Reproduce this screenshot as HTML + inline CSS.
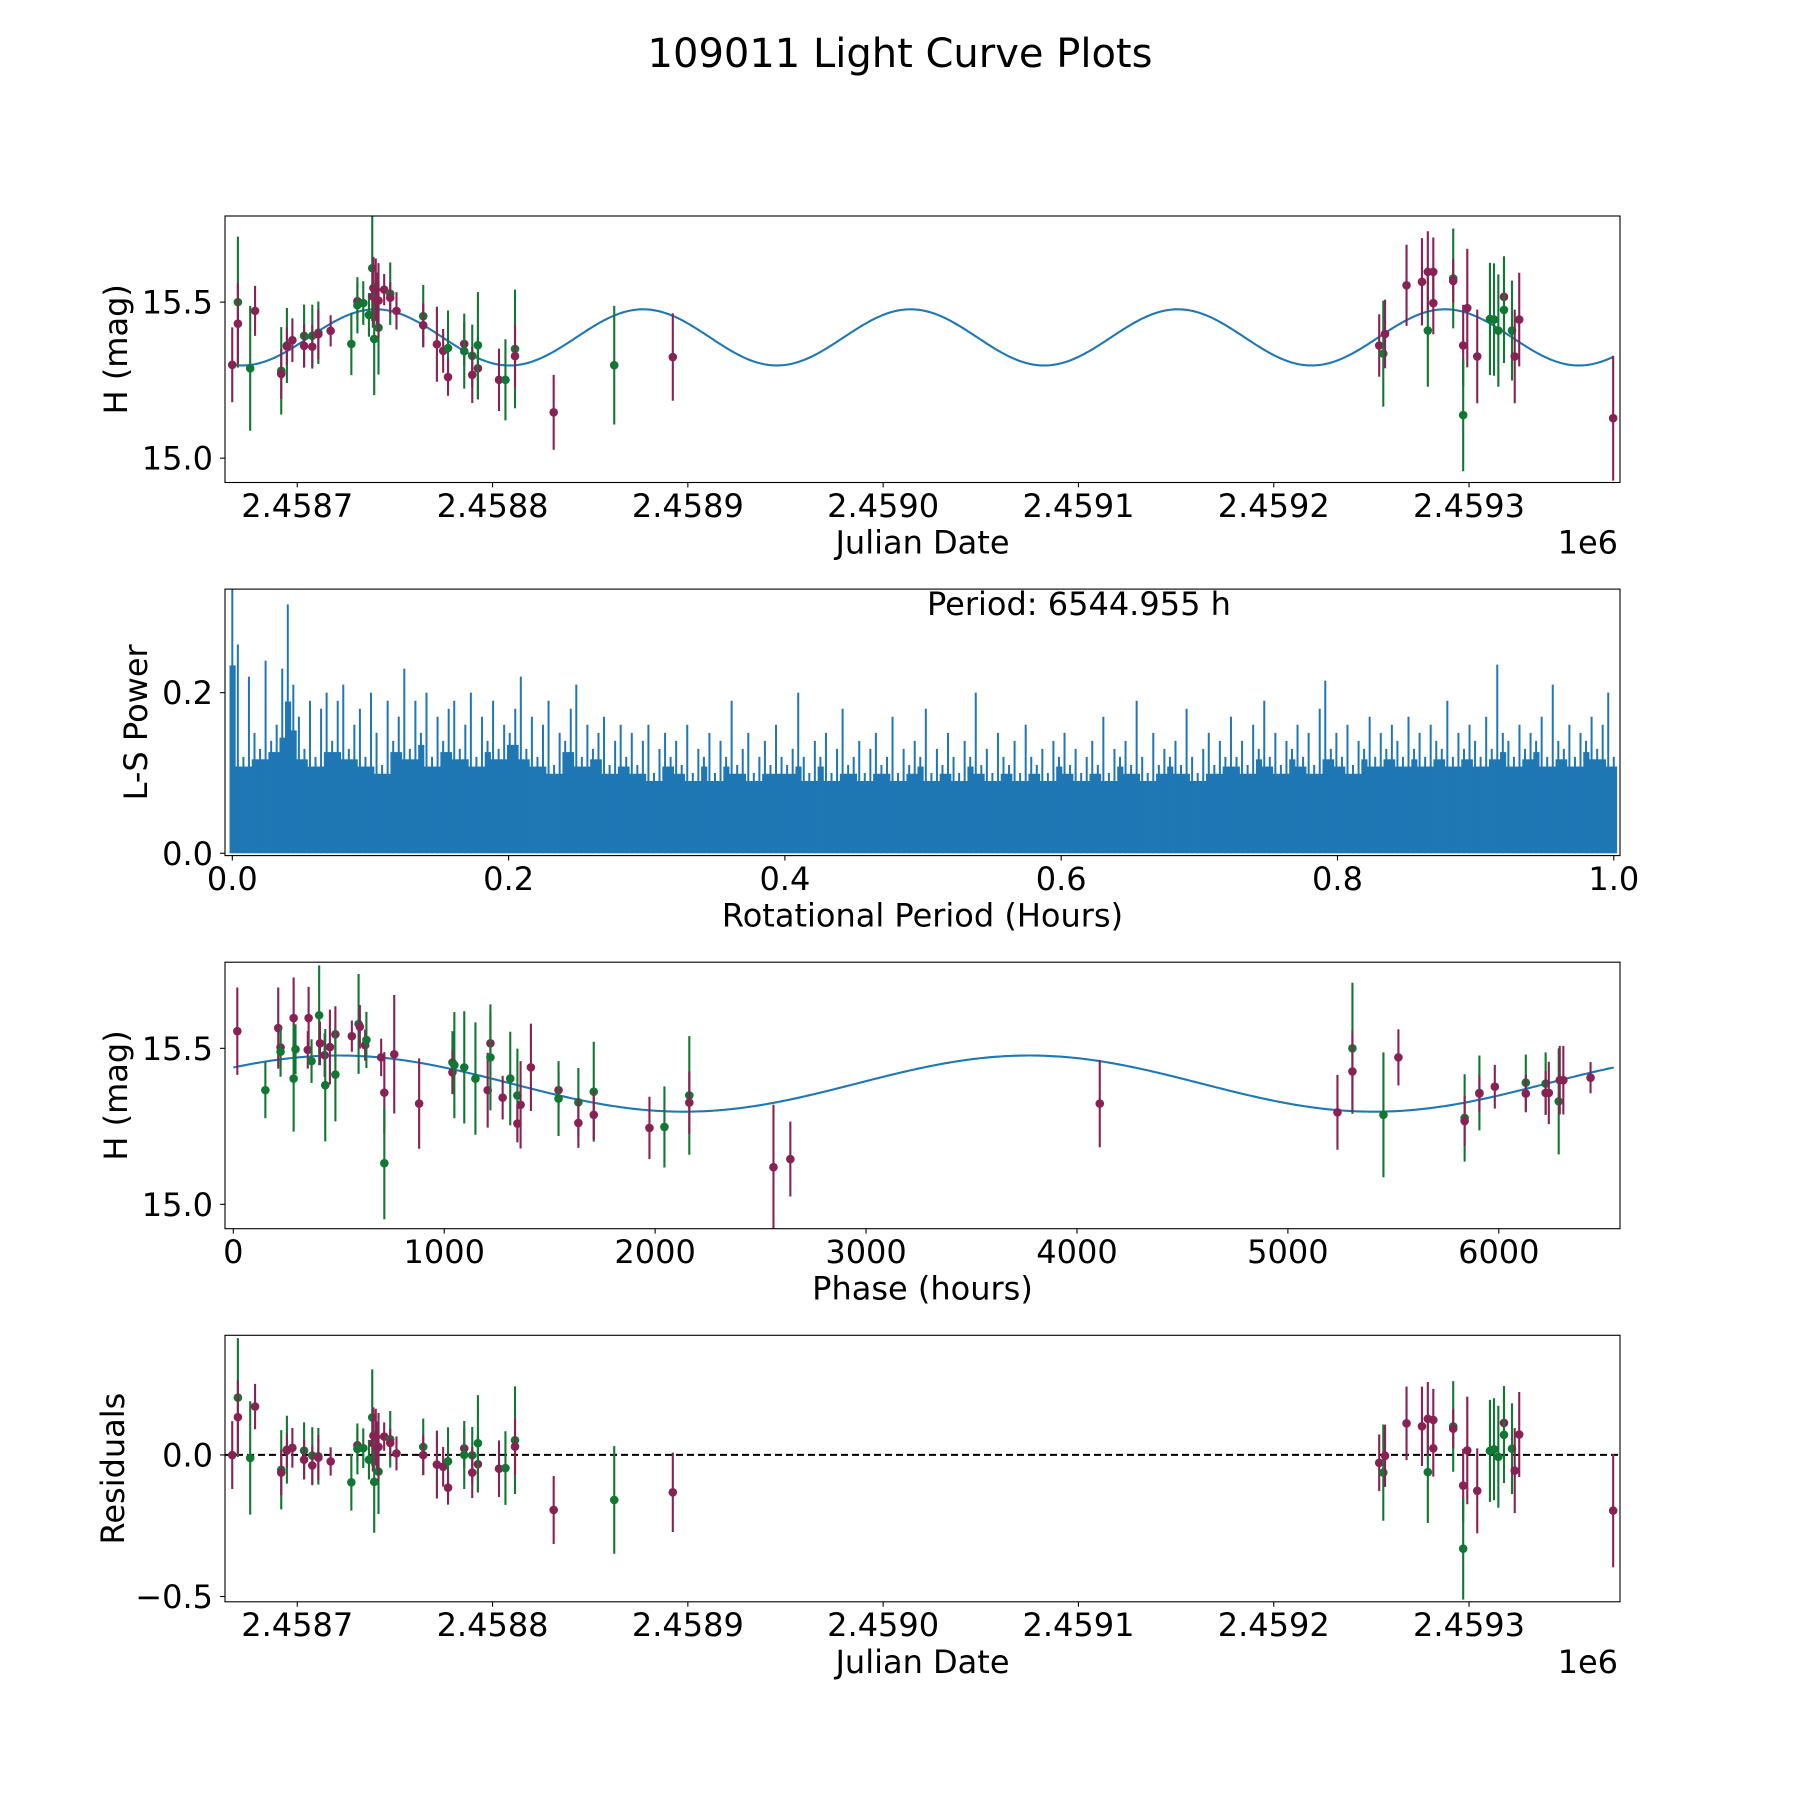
<!DOCTYPE html>
<html><head><meta charset="utf-8"><title>109011 Light Curve Plots</title>
<style>
html,body{margin:0;padding:0;background:#fff;}
svg{display:block;font-family:"DejaVu Sans","Liberation Sans",sans-serif;}
</style></head>
<body>
<svg id="fig" xmlns="http://www.w3.org/2000/svg" width="1800" height="1800" viewBox="0 0 1800 1800">
<rect width="1800" height="1800" fill="#fff"/>
<text x="900" y="67" font-size="40" text-anchor="middle">109011 Light Curve Plots</text>
</svg>
<script>
// ---------- data ----------
const lcDay = [-33.3,-30.4,-30.4,-24.1,-21.6,-8.2,-8.2,-5.3,-5.3,-2.5,3.5,3.5,7.7,7.7,10.8,10.8,17.1,27.7,30.8,30.8,33.8,36.7,38.4,38.7,39.0,39.4,40.2,40.8,41.6,41.6,44.5,47.6,47.6,50.8,64.5,64.5,71.5,74.7,77.2,77.2,85.5,85.5,89.6,89.6,92.5,92.5,103.3,106.6,111.5,111.5,131.3,162.3,192.3,
554.0,556.1,557.0,568.0,575.9,578.9,578.9,581.7,581.7,591.9,591.9,597.0,597.0,599.1,604.2,610.7,612.8,615.0,617.9,617.9,622.0,623.4,625.7,673.8];
const lcMag = [15.299,15.500,15.431,15.288,15.472,15.280,15.270,15.361,15.358,15.378,15.392,15.360,15.392,15.357,15.402,15.397,15.408,15.366,15.503,15.490,15.497,15.459,15.609,15.518,15.545,15.382,15.540,15.505,15.418,15.505,15.540,15.527,15.514,15.472,15.455,15.426,15.365,15.344,15.353,15.260,15.366,15.343,15.328,15.267,15.288,15.362,15.251,15.251,15.350,15.327,15.147,15.298,15.324,
15.361,15.335,15.398,15.554,15.565,15.409,15.597,15.597,15.497,15.576,15.568,15.361,15.138,15.481,15.326,15.446,15.444,15.409,15.517,15.475,15.409,15.326,15.444,15.128];
const lcErr = [0.12,0.21,0.13,0.20,0.08,0.14,0.08,0.12,0.06,0.07,0.10,0.07,0.10,0.07,0.10,0.08,0.05,0.10,0.06,0.09,0.07,0.07,0.17,0.10,0.10,0.18,0.10,0.09,0.15,0.12,0.05,0.10,0.05,0.06,0.10,0.07,0.12,0.07,0.12,0.06,0.07,0.12,0.10,0.09,0.10,0.17,0.10,0.13,0.19,0.10,0.12,0.19,0.14,
0.10,0.17,0.11,0.13,0.14,0.18,0.13,0.11,0.10,0.16,0.07,0.13,0.18,0.19,0.15,0.18,0.18,0.18,0.13,0.17,0.16,0.15,0.15,0.20];
const lcBand = ["p","g","p","g","p","g","p","g","p","p","g","p","g","p","g","p","p","g","p","g","g","g","g","p","p","g","p","p","g","p","p","g","p","p","g","p","p","p","g","p","p","g","g","p","p","g","p","g","g","p","p","g","p",
"p","g","p","p","p","g","p","p","p","g","p","p","g","p","p","g","g","g","p","g","g","p","p","p"];
const fitMean = 15.387, fitAmp = 0.09, fitPeriodDays = 136.9, fitPeakDay = 40.2;
const periodHours = 6544.955;
const phHour = [19,152,213,224,224,286,286,295,353,357,371,407,411,433,436,458,484,484,562,594,600,625,631,701,716,716,763,881,1039,1039,1048,1095,1148,1206,1219,1219,1277,1313,1347,1347,1362,1411,1542,1542,1636,1636,1709,1709,1973,2044,2162,2162,2561,2641,
4108,5235,5306,5306,5453,5524,5838,5838,5908,5908,5981,6128,6128,6222,6222,6237,6284,6289,6306,6435];
const phMag = [15.555,15.366,15.565,15.503,15.489,15.597,15.403,15.497,15.495,15.597,15.459,15.606,15.516,15.478,15.382,15.504,15.545,15.416,15.539,15.578,15.569,15.510,15.527,15.471,15.358,15.132,15.481,15.323,15.455,15.423,15.446,15.439,15.403,15.366,15.516,15.471,15.342,15.403,15.349,15.259,15.319,15.439,15.366,15.339,15.327,15.261,15.361,15.287,15.245,15.248,15.349,15.326,15.119,15.145,
15.323,15.295,15.500,15.426,15.287,15.471,15.277,15.267,15.357,15.355,15.377,15.390,15.355,15.387,15.357,15.357,15.330,15.398,15.398,15.406];
const phErr = [0.14,0.09,0.13,0.07,0.08,0.13,0.17,0.08,0.06,0.10,0.07,0.16,0.07,0.07,0.18,0.12,0.09,0.15,0.05,0.16,0.07,0.05,0.09,0.06,0.13,0.18,0.19,0.145,0.10,0.07,0.17,0.18,0.18,0.12,0.10,0.17,0.07,0.15,0.15,0.06,0.14,0.14,0.06,0.12,0.11,0.08,0.16,0.08,0.10,0.13,0.19,0.10,0.20,0.12,
0.14,0.12,0.21,0.13,0.20,0.09,0.14,0.08,0.12,0.06,0.07,0.09,0.06,0.10,0.07,0.10,0.17,0.11,0.11,0.05];
const phBand = ["p","g","p","p","g","p","g","g","p","p","g","g","p","p","g","p","p","g","p","g","p","p","g","p","p","g","p","p","g","p","g","g","g","p","p","g","p","g","g","p","p","p","p","g","g","p","g","p","p","g","g","p","p","p",
"p","p","g","p","g","p","g","p","g","p","p","g","p","g","p","p","g","p","p","p"];
const phFitPeriod = 3272.5, phFitPeak = 500;
const lsPower = [0.40,0.26,0.12,0.22,0.15,0.13,0.24,0.14,0.16,0.23,
0.31,0.21,0.17,0.13,0.19,0.12,0.18,0.20,0.14,0.19,
0.21,0.13,0.16,0.18,0.12,0.20,0.15,0.11,0.19,0.14,
0.17,0.23,0.13,0.19,0.15,0.20,0.12,0.17,0.14,0.18,
0.19,0.13,0.16,0.20,0.12,0.17,0.14,0.19,0.13,0.16,
0.15,0.18,0.22,0.13,0.17,0.12,0.16,0.19,0.11,0.15,
0.14,0.18,0.21,0.12,0.16,0.13,0.15,0.17,0.11,0.14,
0.16,0.12,0.15,0.11,0.14,0.16,0.10,0.13,0.15,0.12,
0.14,0.11,0.16,0.10,0.13,0.12,0.15,0.10,0.14,0.12,
0.19,0.11,0.13,0.15,0.10,0.12,0.14,0.11,0.16,0.12,
0.11,0.13,0.20,0.12,0.10,0.14,0.12,0.15,0.10,0.13,
0.18,0.11,0.12,0.14,0.10,0.13,0.15,0.11,0.12,0.17,
0.10,0.13,0.11,0.14,0.12,0.18,0.10,0.13,0.11,0.15,
0.12,0.10,0.14,0.12,0.20,0.11,0.13,0.10,0.15,0.12,
0.11,0.14,0.10,0.16,0.12,0.11,0.13,0.10,0.14,0.12,
0.15,0.11,0.13,0.10,0.12,0.14,0.11,0.17,0.10,0.13,
0.12,0.14,0.11,0.19,0.12,0.10,0.15,0.11,0.13,0.12,
0.14,0.11,0.18,0.12,0.10,0.13,0.15,0.11,0.14,0.12,
0.17,0.12,0.14,0.11,0.16,0.13,0.19,0.12,0.15,0.11,
0.14,0.13,0.16,0.12,0.15,0.11,0.18,0.215,0.13,0.15,
0.12,0.16,0.11,0.14,0.13,0.17,0.12,0.15,0.13,0.16,
0.14,0.12,0.17,0.13,0.15,0.12,0.16,0.14,0.13,0.19,
0.12,0.15,0.13,0.16,0.14,0.12,0.17,0.13,0.235,0.15,
0.14,0.12,0.16,0.13,0.15,0.14,0.17,0.12,0.21,0.14,
0.13,0.16,0.12,0.15,0.14,0.17,0.13,0.16,0.20,0.12];
const jdTicks = [0,100,200,300,400,500,600];
const jdTickLabels = ["2.4587","2.4588","2.4589","2.4590","2.4591","2.4592","2.4593"];
const magTicks = [15.0,15.5];
const magTickLabels = ["15.0","15.5"];
const lsXTicks = [0,0.2,0.4,0.6,0.8,1.0];
const lsXTickLabels = ["0.0","0.2","0.4","0.6","0.8","1.0"];
const lsYTicks = [0,0.2];
const lsYTickLabels = ["0.0","0.2"];
const phXTicks = [0,1000,2000,3000,4000,5000,6000];
const phXTickLabels = ["0","1000","2000","3000","4000","5000","6000"];
const resTicks = [-0.5,0];
const resTickLabels = ["\u22120.5","0.0"];

// ---------- drawing ----------
const NS = "http://www.w3.org/2000/svg";
const svg = document.getElementById("fig");
const COL = {p:"#882255", g:"#117733"};
const L = 225, R = 1620, H = 266.5;
function mk(tag, attrs, parent){
  const e = document.createElementNS(NS, tag);
  for (const k in attrs) e.setAttribute(k, attrs[k]);
  (parent||svg).appendChild(e);
  return e;
}
function axes(top, xlim, ylim){
  return {
    top: top, bot: top+H,
    x: v => L + (v - xlim[0])/(xlim[1]-xlim[0])*(R-L),
    y: v => top + H - (v - ylim[0])/(ylim[1]-ylim[0])*H
  };
}
function frame(ax, g, name){
  const r = mk("rect",{x:L,y:ax.top,width:R-L,height:H,fill:"none",stroke:"#000","stroke-width":1.1}, g);
  
  
}
function xticks(ax, g, vals, labels, name){
  vals.forEach((v,i)=>{
    const x = ax.x(v);
    const t = mk("line",{x1:x,x2:x,y1:ax.bot,y2:ax.bot+4.9,stroke:"#000","stroke-width":1.1}, g);
    
    
    const tx = mk("text",{x:x,y:ax.bot+34.4,"font-size":32,"text-anchor":"middle"}, g);
    tx.textContent = labels[i];
    
    
  });
}
function yticks(ax, g, vals, labels, name){
  vals.forEach((v,i)=>{
    const y = ax.y(v);
    const t = mk("line",{x1:L-4.9,x2:L,y1:y,y2:y,stroke:"#000","stroke-width":1.1}, g);
    
    
    const tx = mk("text",{x:L-12,y:y+11.5,"font-size":32,"text-anchor":"end"}, g);
    tx.textContent = labels[i];
    
    
  });
}
function xlabel(ax, g, text, name){
  const t = mk("text",{x:(L+R)/2,y:ax.bot+71,"font-size":32,"text-anchor":"middle"}, g);
  t.textContent = text;
  
  
}
function ylabel(ax, g, text, cx, name){
  const cy = ax.top + H/2;
  const t = mk("text",{x:cx,y:cy,"font-size":32,"text-anchor":"middle","dominant-baseline":"central",transform:`rotate(-90 ${cx} ${cy})`}, g);
  t.textContent = text;
  
  
}
function offsetText(ax, g, name){
  const t = mk("text",{x:R-2,y:ax.bot+71,"font-size":32,"text-anchor":"end"}, g);
  t.textContent = "1e6";
  
  
}
function clip(ax, id){
  const cp = mk("clipPath",{id:id});
  mk("rect",{x:L,y:ax.top,width:R-L,height:H}, cp);
  return "url(#"+id+")";
}
function errPoint(g, x, y, y1, y2, c, name){
  const l = mk("line",{x1:x,x2:x,y1:y1,y2:y2,stroke:c,"stroke-width":2.1}, g);
  
  
  const d = mk("circle",{cx:x,cy:y,r:4.3,fill:c}, g);
  
  
}
function model(day){ return fitMean + fitAmp*Math.cos(2*Math.PI*(day-fitPeakDay)/fitPeriodDays); }
function phModel(h){ return fitMean + fitAmp*Math.cos(2*Math.PI*(h-phFitPeak)/phFitPeriod); }

// Panel 1
const a1 = axes(216, [-37.0, 677.3], [14.922, 15.776]);
const g1 = mk("g",{});  
const c1 = clip(a1,"clip1");
const g1d = mk("g",{"clip-path":c1}, g1);
let d = "";
for (let i=0;i<=700;i++){ const day = lcDay[0] + (lcDay[lcDay.length-1]-lcDay[0])*i/700; d += (i?"L":"M")+a1.x(day).toFixed(2)+","+a1.y(model(day)).toFixed(2); }
const m1 = mk("path",{d:d,fill:"none",stroke:"#1f77b4","stroke-width":2.1}, g1d);
 
lcDay.forEach((t,i)=>{
  errPoint(g1d, a1.x(t), a1.y(lcMag[i]), a1.y(lcMag[i]-lcErr[i]), a1.y(lcMag[i]+lcErr[i]), COL[lcBand[i]], 'light-curve');
});
frame(a1,g1,'light-curve');
xticks(a1,g1,jdTicks,jdTickLabels,'light-curve');
yticks(a1,g1,magTicks,magTickLabels,'light-curve');
xlabel(a1,g1,"Julian Date",'light-curve');
ylabel(a1,g1,"H (mag)",116,'light-curve');
offsetText(a1,g1,'light-curve');

// Panel 2
const a2 = axes(589.1, [-0.00529, 1.0045], [-0.0029, 0.329]);
const g2 = mk("g",{});  
const c2 = clip(a2,"clip2");
const g2d = mk("g",{"clip-path":c2}, g2);
const n = lsPower.length;
const step = 1/(n-1);
const bw = a2.x(step) - a2.x(0);
lsPower.forEach((v,i)=>{
  const p = i*step;
  const floorV = Math.min(v, lsPower[Math.max(0,i-1)], lsPower[Math.min(n-1,i+1)])*0.9;
  const b = mk("rect",{x:a2.x(p)-bw/2,y:a2.y(floorV),width:bw+0.6,height:a2.y(0)-a2.y(floorV),fill:"#1f77b4"}, g2d);
  
  
  const s = mk("line",{x1:a2.x(p),x2:a2.x(p),y1:a2.y(0),y2:a2.y(v),stroke:"#1f77b4","stroke-width":2}, g2d);
  
  
});
frame(a2,g2,'periodogram');
xticks(a2,g2,lsXTicks,lsXTickLabels,'periodogram');
yticks(a2,g2,lsYTicks,lsYTickLabels,'periodogram');
xlabel(a2,g2,"Rotational Period (Hours)",'periodogram');
ylabel(a2,g2,"L-S Power",136,'periodogram');
const pt = mk("text",{x:927,y:615,"font-size":32}, g2);
pt.textContent = "Period: " + periodHours.toFixed(3) + " h";
 

// Panel 3
const a3 = axes(962.2, [-39.4, 6574.6], [14.922, 15.776]);
const g3 = mk("g",{});  
const c3 = clip(a3,"clip3");
const g3d = mk("g",{"clip-path":c3}, g3);
d = "";
for (let i=0;i<=600;i++){ const h = periodHours*i/600; d += (i?"L":"M")+a3.x(h).toFixed(2)+","+a3.y(phModel(h)).toFixed(2); }
const m3 = mk("path",{d:d,fill:"none",stroke:"#1f77b4","stroke-width":2.1}, g3d);
 
phHour.forEach((h,i)=>{
  errPoint(g3d, a3.x(h), a3.y(phMag[i]), a3.y(phMag[i]-phErr[i]), a3.y(phMag[i]+phErr[i]), COL[phBand[i]], 'phase');
});
frame(a3,g3,'phase');
xticks(a3,g3,phXTicks,phXTickLabels,'phase');
yticks(a3,g3,magTicks,magTickLabels,'phase');
xlabel(a3,g3,"Phase (hours)",'phase');
ylabel(a3,g3,"H (mag)",116,'phase');

// Panel 4
const a4 = axes(1335.3, [-37.0, 677.3], [-0.5187, 0.4225]);
const g4 = mk("g",{});  
const c4 = clip(a4,"clip4");
const g4d = mk("g",{"clip-path":c4}, g4);
const zl = mk("line",{x1:L,x2:R,y1:a4.y(0),y2:a4.y(0),stroke:"#000","stroke-width":2,"stroke-dasharray":"7,4"}, g4d);
 
lcDay.forEach((t,i)=>{
  const r = lcMag[i] - model(t);
  errPoint(g4d, a4.x(t), a4.y(r), a4.y(r-lcErr[i]), a4.y(r+lcErr[i]), COL[lcBand[i]], 'residual');
});
frame(a4,g4,'residuals');
xticks(a4,g4,jdTicks,jdTickLabels,'residuals');
yticks(a4,g4,resTicks,resTickLabels,'residuals');
xlabel(a4,g4,"Julian Date",'residuals');
ylabel(a4,g4,"Residuals",113,'residuals');
offsetText(a4,g4,'residuals');
</script>
</body></html>
